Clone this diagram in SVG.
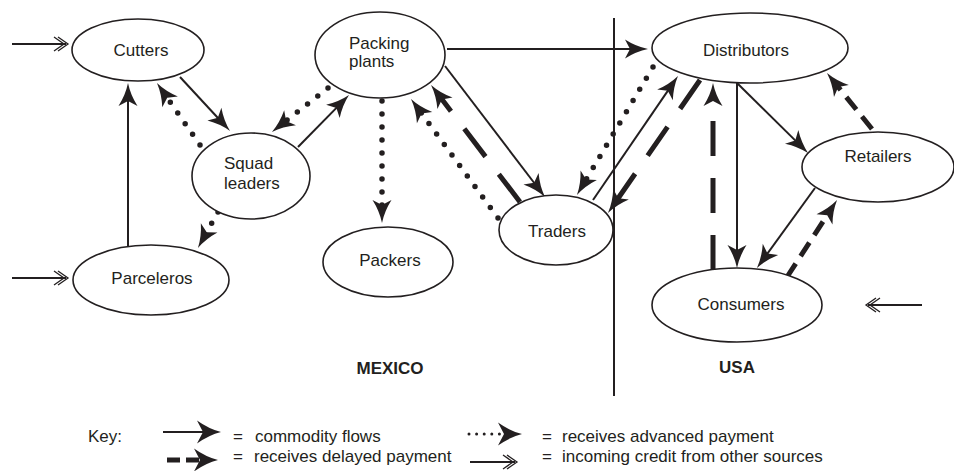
<svg xmlns="http://www.w3.org/2000/svg" width="954" height="471" viewBox="0 0 954 471">
<style>
.node ellipse{fill:#fff;stroke:#231f20;stroke-width:1.6}
text{font-family:"Liberation Sans",Arial,sans-serif;font-size:17px;fill:#231f20}
.lbl{text-anchor:middle}
.bold{font-weight:bold}
.c line{stroke:#231f20;fill:none}
.solid{stroke-width:2}
.long{stroke-width:5;stroke-dasharray:35 22}
.short{stroke-width:5;stroke-dasharray:16 9}
.dot{stroke-width:5.5;stroke-dasharray:0 13;stroke-linecap:round}
.credit{stroke-width:2}
</style>
<defs>
<marker id="ah" viewBox="-12 -12 26 24" refX="0" refY="0" markerWidth="26" markerHeight="24" markerUnits="userSpaceOnUse" orient="auto">
<path d="M12,0 Q0,-2.5 -11,-9.5 L-6,0 L-11,9.5 Q0,2.5 12,0 Z" fill="#231f20"/>
</marker>
<marker id="ahk" viewBox="-14 -13 28 26" refX="0" refY="0" markerWidth="28" markerHeight="26" markerUnits="userSpaceOnUse" orient="auto">
<path d="M12,0 Q0,-3 -12,-11.5 L-6,0 L-12,11.5 Q0,3 12,0 Z" fill="#231f20"/>
</marker>
<marker id="ch" viewBox="-14 -9 18 18" refX="0" refY="0" markerWidth="18" markerHeight="18" markerUnits="userSpaceOnUse" orient="auto">
<path d="M-8,-7 L2,0 L-8,7 M-12,-7 L-2,0 L-12,7" fill="none" stroke="#231f20" stroke-width="1.3"/>
</marker>
</defs>

<line x1="614" y1="18" x2="614" y2="396" stroke="#231f20" stroke-width="2"/>

<g id="connectors" class="c">
<line class="credit" x1="12" y1="44" x2="66" y2="44" marker-end="url(#ch)"/>
<line class="credit" x1="12" y1="278" x2="66" y2="278" marker-end="url(#ch)"/>
<line class="credit" x1="922" y1="305" x2="868" y2="305" marker-end="url(#ch)"/>
<line class="solid" x1="128" y1="247" x2="128" y2="95" marker-end="url(#ah)"/>
<line class="solid" x1="180" y1="77" x2="221.9" y2="122.2" marker-end="url(#ah)"/>
<line class="dot" x1="200" y1="145" x2="163.8" y2="92.9" marker-end="url(#ah)"/>
<line class="solid" x1="298" y1="147" x2="340.6" y2="103.6" marker-end="url(#ah)"/>
<line class="dot" x1="328" y1="88" x2="281.4" y2="124.6" marker-end="url(#ah)"/>
<line class="dot" x1="218" y1="212" x2="203.8" y2="237.5" marker-end="url(#ah)"/>
<line class="dot" x1="382" y1="101" x2="382" y2="211" marker-end="url(#ah)"/>
<line class="solid" x1="447" y1="49" x2="636" y2="49" marker-end="url(#ah)"/>
<line class="solid" x1="445" y1="66" x2="537.7" y2="187.5" marker-end="url(#ah)"/>
<line class="long" x1="520" y1="202" x2="438.3" y2="94.6" marker-end="url(#ah)"/>
<line class="dot" x1="498" y1="218" x2="418.1" y2="108.7" marker-end="url(#ah)"/>
<line class="dot" x1="653" y1="67" x2="583.1" y2="184.7" marker-end="url(#ah)"/>
<line class="solid" x1="593" y1="200" x2="671.2" y2="85.9" marker-end="url(#ah)"/>
<line class="long" x1="700" y1="80" x2="614.8" y2="203.1" marker-end="url(#ah)"/>
<line class="long" x1="713" y1="270" x2="713" y2="95" marker-end="url(#ah)"/>
<line class="solid" x1="737" y1="83" x2="737" y2="256" marker-end="url(#ah)"/>
<line class="solid" x1="737" y1="83" x2="799.5" y2="144.6" marker-end="url(#ah)"/>
<line class="solid" x1="815" y1="188" x2="764" y2="258.3" marker-end="url(#ah)"/>
<line class="short" x1="872" y1="129" x2="834.5" y2="82.4" marker-end="url(#ah)"/>
<line class="short" x1="787" y1="277" x2="830.5" y2="210.1" marker-end="url(#ah)"/>
</g>

<g id="cutters" class="node"><ellipse cx="138" cy="50" rx="66" ry="31"/><text class="lbl" x="141" y="56">Cutters</text></g>
<g id="packing-plants" class="node"><ellipse cx="380" cy="55" rx="65" ry="43"/><text x="349" y="49">Packing</text><text x="349" y="67">plants</text></g>
<g id="squad-leaders" class="node"><ellipse cx="251" cy="176" rx="59" ry="43"/><text x="224" y="169">Squad</text><text x="224" y="189">leaders</text></g>
<g id="parceleros" class="node"><ellipse cx="151" cy="280" rx="78" ry="35"/><text class="lbl" x="152" y="284">Parceleros</text></g>
<g id="packers" class="node"><ellipse cx="388" cy="262" rx="65" ry="35"/><text class="lbl" x="390" y="266">Packers</text></g>
<g id="traders" class="node"><ellipse cx="556" cy="230" rx="57" ry="35"/><text class="lbl" x="557" y="237">Traders</text></g>
<g id="distributors" class="node"><ellipse cx="750" cy="48" rx="98" ry="35"/><text class="lbl" x="746" y="56">Distributors</text></g>
<g id="retailers" class="node"><ellipse cx="878" cy="167" rx="76" ry="35"/><text class="lbl" x="878" y="162">Retailers</text></g>
<g id="consumers" class="node"><ellipse cx="737" cy="305" rx="85" ry="37"/><text class="lbl" x="741" y="310">Consumers</text></g>

<text class="lbl bold" x="390" y="374">MEXICO</text>
<text class="lbl bold" x="737" y="373">USA</text>

<g id="key" class="c">
<text x="88" y="442">Key:</text>
<line class="solid" x1="163" y1="432" x2="209" y2="432" marker-end="url(#ahk)"/>
<text x="233" y="442">=</text><text x="255" y="442">commodity flows</text>
<line class="short" x1="167" y1="460" x2="206" y2="460" style="stroke-dasharray:13 6" marker-end="url(#ahk)"/>
<text x="233" y="462">=</text><text x="254" y="462">receives delayed payment</text>
<line x1="469" y1="434" x2="510" y2="434" style="stroke-width:3;stroke-dasharray:0 7.6;stroke-linecap:round" marker-end="url(#ahk)"/>
<text x="542" y="442">=</text><text x="562" y="442">receives advanced payment</text>
<line class="credit" x1="470" y1="462" x2="515" y2="462" marker-end="url(#ch)"/>
<text x="542" y="462">=</text><text x="562" y="462">incoming credit from other sources</text>
</g>
</svg>
